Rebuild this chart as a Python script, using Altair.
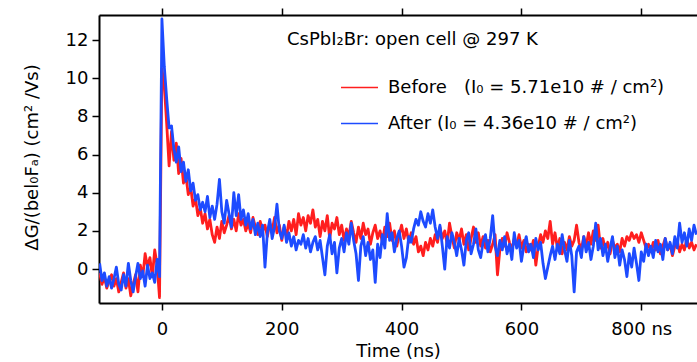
import altair as alt
import pandas as pd

# ---- data ----
TIME_NS = list(range(-104, 893, 4))  # sampling grid, 4 ns steps

BEFORE = [
    -0.2, -0.8, -0.4, -1.0, -0.6, -0.3, -0.9, -0.5, -1.2, -0.7,
    -0.2, -1.0, -0.5, -1.4, -0.8, -0.3, -1.2, 0.2, -0.4, 0.8,
    0.1, 0.6, -0.4, 1.0, 0.2, -1.5, 10.5, 9.6, 7.6, 5.4,
    7.2, 5.7, 6.6, 5.0, 5.8, 4.5, 4.9, 3.9, 4.3, 3.3,
    3.7, 2.8, 3.2, 2.4, 2.9, 2.1, 2.6, 1.8, 1.4, 2.2,
    1.6, 2.5, 1.9, 2.3, 2.8, 2.1, 2.6, 2.0, 2.9, 2.3,
    2.6, 2.0, 2.4, 1.9, 2.7, 2.2, 1.8, 2.5, 2.0, 2.3,
    1.7, 2.4, 2.0, 2.7, 1.9, 2.3, 1.5, 2.2, 1.7, 2.5,
    2.0, 2.6, 1.8, 2.9, 2.3, 2.7, 2.0, 2.8, 2.4, 3.1,
    2.2, 2.6, 1.7, 2.5, 2.0, 2.8, 1.6, 2.4, 2.1, 2.7,
    1.8, 2.3, 1.5, 2.1, 1.7, 2.5, 1.9, 1.4, 2.2, 1.6,
    2.4, 1.8, 2.1, 1.3, 1.9, 2.3, 1.6, 2.0, 1.4, 2.2,
    1.7, 2.4, 1.5, 2.0, 1.2, 1.8, 2.3, 1.6, 2.1, 1.4,
    1.9, 1.3, 1.7, 0.9, 1.2, 0.7, 1.4, 1.0, 1.6, 1.2,
    1.8, 1.4, 2.2, 1.6, 2.0, 1.3, 2.4, 1.7, 1.1, 1.9,
    1.5, 2.1, 1.3, 1.8, 1.0, 1.6, 2.2, 1.4, 1.9, 1.2,
    1.7, 1.1, 1.5, 0.9, 1.3, 1.8, -0.3, 1.0, 1.6, 1.2,
    1.9, 1.4, 1.0, 1.6, 1.2, 1.8, 1.1, 1.5, 0.9, 1.3,
    1.0, 1.5, 0.2, 1.2, 1.8, 1.4, 2.0, 1.6, 2.5, 1.3,
    1.9, 1.1, 1.6, 0.8, 1.4, 1.0, 1.7, 1.2, 1.5, 2.3,
    1.4, 1.0, 1.7, 1.2, 1.9, 1.3, 2.0, 1.5, 2.3, 1.1,
    1.6, 1.0, 1.4, 0.8, 1.5, 1.1, 1.3, 0.9, 1.6, 1.2,
    1.7, 1.5, 1.9, 1.6, 1.8, 1.4, 1.9, 1.5, 1.1, 1.3,
    0.9, 1.4, 1.0, 1.5, 0.8, 1.2, 1.6, 1.0, 1.3, 0.7,
    1.2, 1.5, 0.9, 1.3, 1.0, 1.6, 1.1, 1.4, 1.0, 1.3,
]

AFTER = [
    0.3, -0.6, -0.2, -0.9, -0.4, -1.0, -0.5, 0.1, -0.8, -1.1,
    -0.3, -0.9, 0.3, -0.6, -1.2, -0.4, 0.3, -0.5, -0.1, -0.9,
    0.2, -0.5, -0.2, -0.7, 0.5, -0.4, 13.1, 10.6, 8.9, 7.4,
    7.5, 6.3, 5.6, 6.4, 5.1, 5.6, 4.6, 5.2, 4.1, 4.5,
    3.6, 3.9, 3.1, 3.5, 3.0, 3.8, 2.7, 3.3, 2.6, 3.4,
    4.7, 3.0, 2.4, 3.6, 2.9, 2.2, 4.0, 2.8, 3.9, 2.6,
    3.1, 2.3, 2.9, 2.1, 2.6, 1.8, 2.4, 1.7, 2.3, 0.1,
    1.9, 2.6, 1.6, 2.2, 3.4, 2.0, 1.6, 2.3, 1.4, 1.9,
    1.2, 1.7, 1.0, 1.5, 1.3, 1.8, 1.1, 1.6, 0.9, 1.4,
    1.7, 1.0, 1.5, 0.6, -0.3, 1.2, 1.8, 0.8, 1.4, -0.2,
    1.1, 1.6, 0.9, 1.9, 1.3, 2.4, 1.5, 0.8, -0.6, 1.2,
    1.7, 0.7, 1.4, 0.5, 1.0, -0.7, 1.3, 0.6, 1.8, 1.1,
    2.9, 1.5, 1.9, 0.9, 1.6, 2.0, 1.2, 0.1, 0.6, 1.7,
    1.4, 2.1, 2.6, 2.3, 3.0, 2.5, 2.2, 2.9, 2.4, 3.1,
    2.2, 1.6, 2.3, 1.2, 0.0, 1.7, 1.1, 1.9, 1.4, 0.7,
    1.6, 1.0, 0.2, 1.5, 1.9, 0.8, 1.3, 2.1, 1.0, 0.6,
    1.4, 1.8, 0.9, 1.6, 2.8, 1.2, 0.7, 1.5, 1.0, 1.7,
    0.8, 1.3, 0.5, 1.9, 1.1, 1.5, 0.4, 1.2, 1.7, 0.9,
    1.3, 0.6, 1.6, 1.0, 1.4, 0.3, -0.5, 0.1, 0.7, 1.2,
    0.5, 1.3, 0.8, 1.8, 1.0, 0.4, 1.5, 0.7, -1.2, 0.9,
    1.2, 0.6, 1.7, 0.9, 1.4, 0.5, 1.2, 2.4, 1.0, 1.6,
    0.7, 1.3, 0.4, 1.1, 1.7, 0.6, 1.2, 0.2, 1.0, 0.5,
    -0.4, 0.8, 0.1, 1.1, 0.3, -0.6, 0.9, 0.4, 1.3, 0.7,
    1.2, 0.6, 1.5, 0.9, 1.3, 0.5, 1.6, 1.0, 1.4, 0.8,
    1.7, 1.1, 2.4, 1.4, 1.9, 1.2, 2.1, 1.5, 2.3, 1.8,
]

NBSP = "\u00a0"
SERIES = [
    "Before" + NBSP * 3 + "(I\u2080 = 5.71e10 # / cm\u00b2)",
    "After" + NBSP + "(I\u2080 = 4.36e10 # / cm\u00b2)",
]
COLORS = ["#ff1e1e", "#1d4bff"]
X_TICKS = [0, 200, 400, 600, 800]
Y_TICKS = [0, 2, 4, 6, 8, 10, 12]
X_DOMAIN = [-105, 893]
Y_DOMAIN = [-1.78, 13.31]
TITLE = "CsPbI\u2082Br: open cell @ 297 K"
X_TITLE = "Time (ns)"
Y_TITLE = "\u0394G/(bel\u2080F\u2090) (cm\u00b2 /Vs)"

FONT = "DejaVu Sans"

df_before = pd.DataFrame({"t": TIME_NS, "v": BEFORE, "series": SERIES[0]})
df_after = pd.DataFrame({"t": TIME_NS, "v": AFTER, "series": SERIES[1]})

xscale = alt.Scale(domain=X_DOMAIN, nice=False, zero=False)
yscale = alt.Scale(domain=Y_DOMAIN, nice=False, zero=False)

axis_common = dict(
    domainColor="black", domainWidth=2, tickColor="black", tickWidth=1.5,
    tickSize=7, grid=False, labelFont=FONT, labelFontSize=18, labelColor="black",
    titleFont=FONT, titleFontSize=18, titleFontWeight="normal", titleColor="black",
)

x_bottom = alt.Axis(
    orient="bottom", values=X_TICKS, title=X_TITLE,
    labelExpr="datum.value == 800 ? '800 ns' : datum.label",
    labelBaseline="alphabetic", labelPadding=24, labelFlush=False, labelOverlap=False,
    titleX=299, titleY=53, titleBaseline="alphabetic", titleAnchor="middle",
    **axis_common,
)
x_top = alt.Axis(orient="top", values=X_TICKS, labels=False, title=None, **axis_common)
y_left = alt.Axis(
    orient="left", values=Y_TICKS, title=Y_TITLE, labelPadding=4,
    titleAngle=-90, titleX=-62, titleY=142, titleBaseline="alphabetic", titleAlign="center",
    **axis_common,
)

color = alt.Color(
    "series:N",
    scale=alt.Scale(domain=SERIES, range=COLORS),
    legend=alt.Legend(
        title=None, orient="none", legendX=241, legendY=53, direction="vertical",
        symbolType="stroke", symbolSize=1369, symbolStrokeWidth=1.5,
        labelFont=FONT, labelFontSize=18, labelColor="black", labelOffset=9,
        rowPadding=7, padding=0, labelLimit=400,
    ),
)

red = alt.Chart(df_before).mark_line(strokeWidth=2.8, strokeJoin="round", clip=True).encode(
    x=alt.X("t:Q", scale=xscale, axis=x_bottom),
    y=alt.Y("v:Q", scale=yscale, axis=y_left),
    color=color,
)
blue = alt.Chart(df_after).mark_line(strokeWidth=2.8, strokeJoin="round", clip=True).encode(
    x=alt.X("t:Q", scale=xscale, axis=None),
    y=alt.Y("v:Q", scale=yscale, axis=y_left),
    color=color,
)
top = alt.Chart(df_before).mark_line(opacity=0).encode(
    x=alt.X("t:Q", scale=xscale, axis=x_top),
    y=alt.Y("v:Q", scale=yscale, axis=y_left),
)

chart = alt.layer(red, blue, top).resolve_axis(x="independent").properties(
    width=598, height=288,
    autosize=alt.AutoSizeParams(type="none"),
    padding={"left": 99, "top": 15, "right": 0, "bottom": 59},
    title=alt.TitleParams(
        text=TITLE, anchor="start", frame="group", orient="top", offset=0,
        dx=188, dy=56, baseline="alphabetic", font=FONT, fontSize=18,
        fontWeight="normal", color="black",
    ),
).configure_view(stroke=None).configure(background="white")

chart.save("out.html", embed_options={"renderer": "svg", "actions": False})
